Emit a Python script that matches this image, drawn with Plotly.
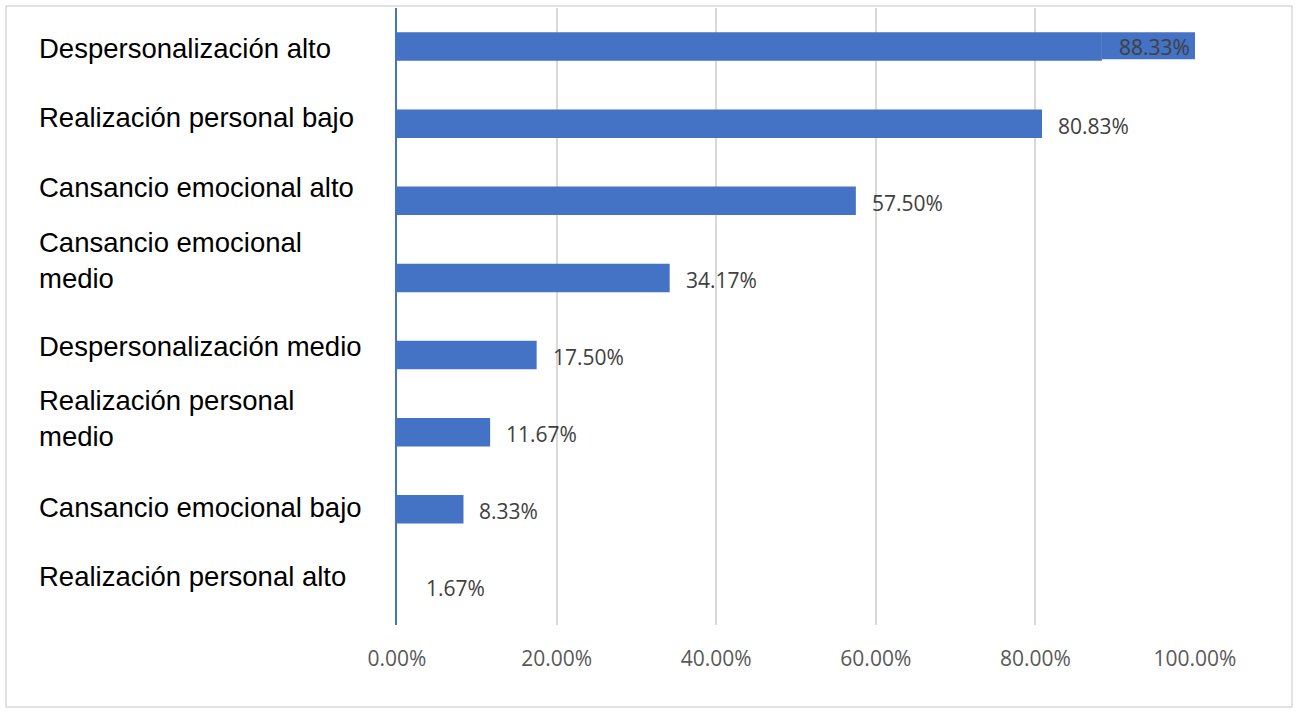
import plotly.graph_objects as go

categories = [
    "Despersonalización alto",
    "Realización personal bajo",
    "Cansancio emocional alto",
    "Cansancio emocional medio",
    "Despersonalización medio",
    "Realización personal medio",
    "Cansancio emocional bajo",
    "Realización personal alto",
]
display_labels = [
    "Despersonalización alto",
    "Realización personal bajo",
    "Cansancio emocional alto",
    "Cansancio emocional<br>medio",
    "Despersonalización medio",
    "Realización personal<br>medio",
    "Cansancio emocional bajo",
    "Realización personal alto",
]
values = [88.33, 80.83, 57.50, 34.17, 17.50, 11.67, 8.33, 1.67]
value_labels = ["88.33%", "80.83%", "57.50%", "34.17%", "17.50%", "11.67%", "8.33%", "1.67%"]
tick_vals = [0, 20, 40, 60, 80, 100]
tick_text = ["0.00%", "20.00%", "40.00%", "60.00%", "80.00%", "100.00%"]

BLUE = "#4472C4"
W, H = 1299, 713
L, R, T, B = 397, 104, 8, 88
pw, ph = W - L - R, H - T - B

def px_x(px):
    return (px - L) / pw

def px_y(py):
    return (H - B - py) / ph

bar_colors = [BLUE] * (len(values) - 1) + ["rgba(0,0,0,0)"]
# vertical nudges (px, up positive) for the left-aligned category labels
label_yshift = [-2, 6, 13, 17, 9, 14, 2, 10]

fig = go.Figure()
fig.add_trace(go.Bar(
    x=values, y=categories, orientation="h",
    marker=dict(color=bar_colors, line=dict(width=0)),
    width=0.37, hoverinfo="skip",
))

annotations = []
for cat, lab, ys in zip(categories, display_labels, label_yshift):
    annotations.append(dict(
        x=px_x(37), xref="paper", y=cat, yref="y",
        text=lab, showarrow=False, xanchor="left", yanchor="middle",
        align="left", yshift=ys,
        font=dict(family="Liberation Sans, Arial", size=27.5, color="#000000"),
    ))

for i, (cat, v, t) in enumerate(zip(categories, values, value_labels)):
    if i == 0:
        annotations.append(dict(
            x=100, xref="x", y=cat, yref="y", text=t, showarrow=False,
            xanchor="right", yanchor="middle", xshift=-3,
            font=dict(family="Open Sans", size=21, color="#404040"),
        ))
    else:
        annotations.append(dict(
            x=v, xref="x", y=cat, yref="y", text=t, showarrow=False,
            xanchor="left", yanchor="middle", xshift=14, yshift=-2,
            font=dict(family="Open Sans", size=21, color="#404040"),
        ))

shapes = [
    # label background box of the top bar
    dict(type="rect", xref="x", yref="y", x0=values[0], x1=100,
         y0=-0.185, y1=0.165, fillcolor=BLUE, line=dict(width=0), layer="above"),
    # outer chart border
    dict(type="rect", xref="paper", yref="paper",
         x0=px_x(6), x1=px_x(1292), y0=px_y(707), y1=px_y(6),
         line=dict(color="#D9D9D9", width=1.5), fillcolor="rgba(0,0,0,0)"),
]

fig.update_layout(
    width=W, height=H,
    margin=dict(l=L, r=R, t=T, b=B),
    paper_bgcolor="white", plot_bgcolor="white",
    showlegend=False,
    annotations=annotations,
    shapes=shapes,
    xaxis=dict(
        range=[0, 100], tickvals=tick_vals, ticktext=tick_text,
        showgrid=True, gridcolor="#D9D9D9", gridwidth=1.5,
        zeroline=False, showline=False, ticks="",
        ticklabelstandoff=19,
        tickfont=dict(family="Open Sans", size=21, color="#595959"),
    ),
    yaxis=dict(
        autorange="reversed", showticklabels=False, ticks="",
        showgrid=False, zeroline=False,
        showline=True, linecolor=BLUE, linewidth=2,
    ),
)

fig.write_html("out.html")
